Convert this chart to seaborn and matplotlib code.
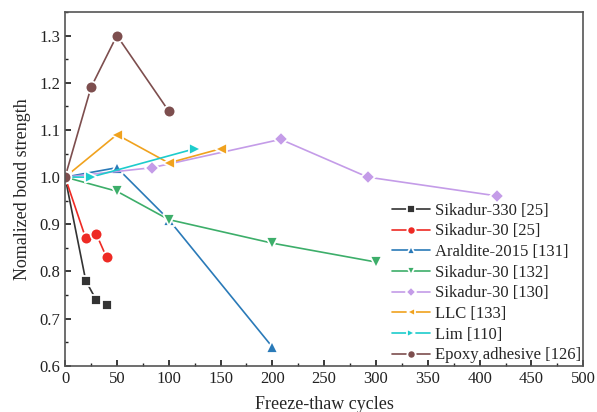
import matplotlib
matplotlib.use("Agg")
import matplotlib.pyplot as plt
import seaborn as sns
import pandas as pd
from matplotlib.ticker import MultipleLocator

labels = ["Sikadur-330 [25]", "Sikadur-30 [25]", "Araldite-2015 [131]", "Sikadur-30 [132]",
          "Sikadur-30 [130]", "LLC [133]", "Lim [110]", "Epoxy adhesive [126]"]
cycles = [
    [0, 20, 30, 40],
    [0, 20, 30, 40],
    [0, 50, 100, 200],
    [0, 50, 100, 200, 300],
    [0, 84, 208, 292, 417],
    [0, 50, 100, 150],
    [0, 25, 125],
    [0, 25, 50, 100],
]
strength = [
    [1.0, 0.78, 0.74, 0.73],
    [1.0, 0.87, 0.88, 0.83],
    [1.0, 1.02, 0.91, 0.64],
    [1.0, 0.97, 0.91, 0.86, 0.82],
    [1.0, 1.02, 1.08, 1.00, 0.96],
    [1.0, 1.09, 1.03, 1.06],
    [1.0, 1.00, 1.06],
    [1.0, 1.19, 1.30, 1.14],
]
colors = ["#333333", "#ee2a24", "#2a7ab8", "#3dae6a", "#c49ce8", "#f0a21e", "#1dcccc", "#7d4e4e"]
markers = ["s", "o", "^", "v", "D", "<", ">", "o"]
msizes = [7.5, 8.5, 8.5, 8.5, 7.5, 8.5, 8.5, 8.5]

sns.set_theme(style="ticks")
plt.rcParams["font.family"] = ["Liberation Serif", "DejaVu Serif"]
plt.rcParams["xtick.direction"] = "in"
plt.rcParams["ytick.direction"] = "in"

fig = plt.figure(figsize=(5.97, 4.12), dpi=100)
ax = fig.add_axes([0.109, 0.112, 0.868, 0.859])

for lab, x, y, c, m, s in zip(labels, cycles, strength, colors, markers, msizes):
    df = pd.DataFrame({"x": x, "y": y})
    sns.lineplot(data=df, x="x", y="y", ax=ax, color=c, marker=m, markersize=s,
                 markeredgecolor="white", markeredgewidth=1.3, linewidth=1.2,
                 label=lab, sort=False)

ax.set_xlim(0, 500)
ax.set_ylim(0.6, 1.35)
ax.xaxis.set_major_locator(MultipleLocator(50))
ax.xaxis.set_minor_locator(MultipleLocator(25))
ax.yaxis.set_major_locator(MultipleLocator(0.1))
ax.yaxis.set_minor_locator(MultipleLocator(0.05))
ax.tick_params(which="both", direction="in", labelsize=12, colors="#222222")
ax.tick_params(which="major", length=4)
ax.tick_params(which="minor", length=2)
for sp in ax.spines.values():
    sp.set_color("#555555")
    sp.set_linewidth(1.2)
ax.set_xlabel("Freeze-thaw cycles", fontsize=13, labelpad=7)
ax.set_ylabel("Nomalized bond strength", fontsize=13, labelpad=6)

leg = ax.legend(loc="lower right", frameon=False, fontsize=12, handlelength=2.3,
                markerscale=0.7, labelspacing=0.28, handletextpad=0.25,
                borderaxespad=0.0, borderpad=0.15)

fig.savefig("out.png", dpi=100)
